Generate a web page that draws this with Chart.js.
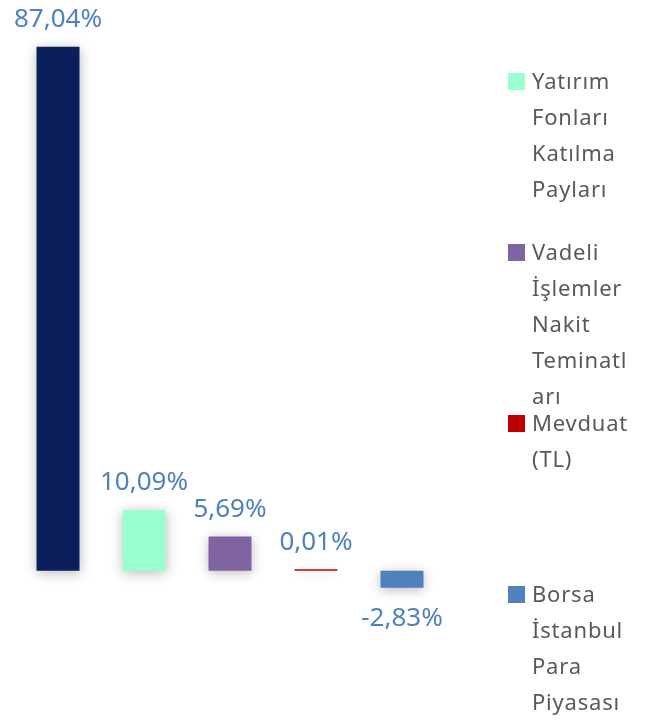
<!DOCTYPE html>
<html>
<head>
<meta charset="utf-8">
<script src="https://cdn.jsdelivr.net/npm/chart.js@4"></script>
<style>
  html, body { margin: 0; padding: 0; background: #fff; }
  #wrap { position: relative; width: 653px; height: 720px; overflow: hidden; }
  #legend { position: absolute; left: 0; top: 0; width: 653px; height: 720px; pointer-events: none; }
  .item { position: absolute; left: 508px; font-family: "Noto Sans", sans-serif; font-size: 22px; line-height: 36px; color: #595959; letter-spacing: 0.8px; }
  .item .box { position: absolute; left: 0; top: 11px; width: 17px; height: 17px; }
  .item .txt { margin-left: 24px; }
</style>
</head>
<body>
<div id="wrap">
  <canvas id="chart" width="653" height="720"></canvas>
  <div id="legend"></div>
</div>
<script>
// chart data
const categories = ['', 'Yatırım Fonları Katılma Payları', 'Vadeli İşlemler Nakit Teminatları', 'Mevduat (TL)', 'Borsa İstanbul Para Piyasası'];
const values = [87.04, 10.09, 5.69, 0.01, -2.83];
const colors = ['#0b1f5c', '#99ffcc', '#8064a2', '#c00000', '#4f81bd'];
// legend lines as wrapped in the picture (first entry is scrolled out of view)
const legendLines = [
  [],
  ['Yatırım', 'Fonları', 'Katılma', 'Payları'],
  ['Vadeli', 'İşlemler', 'Nakit', 'Teminatl', 'arı'],
  ['Mevduat', '(TL)'],
  ['Borsa', 'İstanbul', 'Para', 'Piyasası']
];

function fmt(v) {
  return v.toFixed(2).replace('.', ',') + '%';
}

// soft shadow under the bars
const shadowPlugin = {
  id: 'barShadow',
  beforeDatasetsDraw(chart) {
    const ctx = chart.ctx;
    ctx.save();
    ctx.shadowColor = 'rgba(0,0,0,0.28)';
    ctx.shadowBlur = 12;
    ctx.shadowOffsetX = 0;
    ctx.shadowOffsetY = 2;
  },
  afterDatasetsDraw(chart) {
    chart.ctx.restore();
  }
};

// value labels above / below each bar
const valueLabels = {
  id: 'valueLabels',
  afterDraw(chart) {
    const ctx = chart.ctx;
    const meta = chart.getDatasetMeta(0);
    ctx.save();
    ctx.font = '26px "Noto Sans", sans-serif';
    ctx.fillStyle = '#4f81bd';
    ctx.textAlign = 'center';
    meta.data.forEach((bar, i) => {
      const v = values[i];
      if (v >= 0) {
        ctx.textBaseline = 'bottom';
        ctx.fillText(fmt(v), bar.x, Math.min(bar.y, bar.base) - 14);
      } else {
        ctx.textBaseline = 'top';
        ctx.fillText(fmt(v), bar.x, Math.max(bar.y, bar.base) + 18);
      }
    });
    ctx.restore();
  }
};

const ctx = document.getElementById('chart').getContext('2d');
const chart = new Chart(ctx, {
  type: 'bar',
  data: {
    labels: categories,
    datasets: [{
      data: values,
      backgroundColor: colors,
      borderWidth: 0,
      categoryPercentage: 1,
      barPercentage: 0.5,
      minBarLength: 1.5
    }]
  },
  options: {
    responsive: false,
    animation: false,
    layout: { padding: { left: 15, right: 208, top: 29, bottom: 29 } },
    plugins: { legend: { display: false }, tooltip: { enabled: false } },
    scales: {
      x: { display: false },
      y: { display: false, min: -20, max: 90 }
    }
  },
  plugins: [shadowPlugin, valueLabels]
});

// html legend, fixed slot per entry
const legend = document.getElementById('legend');
const slot = 171;
const firstTop = 62 - slot;
legendLines.forEach((lines, i) => {
  if (!lines.length) return;
  const item = document.createElement('div');
  item.className = 'item';
  item.style.top = (firstTop + i * slot) + 'px';
  const box = document.createElement('div');
  box.className = 'box';
  box.style.background = colors[i];
  const txt = document.createElement('div');
  txt.className = 'txt';
  txt.innerHTML = lines.join('<br>');
  item.appendChild(box);
  item.appendChild(txt);
  legend.appendChild(item);
});
</script>
</body>
</html>
